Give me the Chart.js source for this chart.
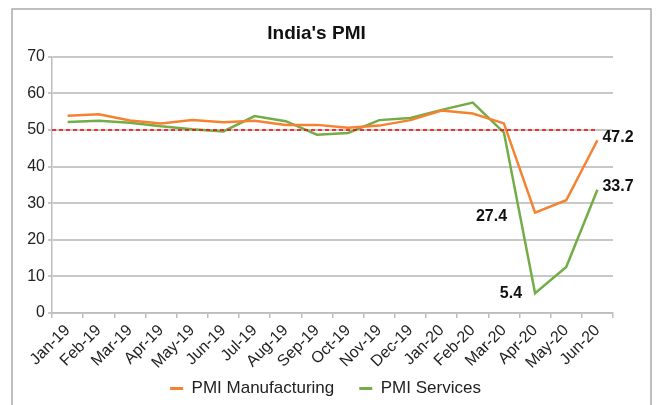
<!DOCTYPE html>
<html lang="en">
<head>
    <meta charset="UTF-8">
    <title>India's PMI</title>
    <script src="https://cdn.jsdelivr.net/npm/chart.js"></script>
    <style>
        body { margin: 0; background: #fff; }
        canvas { display: block; }
    </style>
</head>
<body>
    <canvas id="pmiChart" width="657" height="405"></canvas>
    <script>
        var months = ['Jan-19', 'Feb-19', 'Mar-19', 'Apr-19', 'May-19', 'Jun-19', 'Jul-19', 'Aug-19', 'Sep-19',
                      'Oct-19', 'Nov-19', 'Dec-19', 'Jan-20', 'Feb-20', 'Mar-20', 'Apr-20', 'May-20', 'Jun-20'];
        var manufacturing = [53.9, 54.3, 52.6, 51.8, 52.7, 52.1, 52.5, 51.4, 51.4, 50.6, 51.2, 52.7, 55.3, 54.5, 51.8, 27.4, 30.8, 47.2];
        var services = [52.2, 52.5, 52.0, 51.0, 50.2, 49.6, 53.8, 52.4, 48.7, 49.2, 52.7, 53.3, 55.5, 57.5, 49.3, 5.4, 12.6, 33.7];
        var threshold = 50;
        var yTicks = [0, 10, 20, 30, 40, 50, 60, 70];
        // which points get a value label: [dataset, index, side]
        var valueLabels = [[0, 15, 'below-left'], [0, 17, 'right'], [1, 15, 'left'], [1, 17, 'right']];

        var FONT = "'Liberation Sans', Arial, sans-serif";

        // grey frame round the whole chart
        var framePlugin = {
            id: 'frame',
            beforeDraw: function(chart) {
                var c = chart.ctx;
                c.save();
                c.strokeStyle = '#a9a9a9';
                c.lineWidth = 1.5;
                c.strokeRect(12, 9, 639, 430);
                c.restore();
            }
        };

        // nudge title and legend to where they sit in the original
        var placePlugin = {
            id: 'place',
            afterLayout: function(chart) {
                var lg = chart.legend;
                lg.left += 13; lg.right += 13;
                lg.top -= 14;
                chart.titleBlock.left += 4; chart.titleBlock.right += 4;
            }
        };

        // red dashed 50 line, from the axis to the last month
        var thresholdPlugin = {
            id: 'threshold',
            afterDatasetsDraw: function(chart) {
                var x = chart.scales.x, y = chart.scales.y, c = chart.ctx;
                var py = y.getPixelForValue(threshold);
                c.save();
                c.strokeStyle = '#ff0000';
                c.lineWidth = 1.5;
                c.setLineDash([4, 3]);
                c.beginPath();
                c.moveTo(chart.chartArea.left, py);
                c.lineTo(x.getPixelForValue(months.length - 1), py);
                c.stroke();
                c.restore();
            }
        };

        var labelPlugin = {
            id: 'valueLabels',
            afterDatasetsDraw: function(chart) {
                var c = chart.ctx;
                c.save();
                c.font = 'bold 16px ' + FONT;
                c.fillStyle = '#111';
                c.textBaseline = 'middle';
                valueLabels.forEach(function(l) {
                    var pt = chart.getDatasetMeta(l[0]).data[l[1]];
                    var v = chart.data.datasets[l[0]].data[l[1]].toFixed(1);
                    if (l[2] === 'right') {
                        c.textAlign = 'left';
                        c.fillText(v, pt.x + 5, pt.y - 3);
                    } else if (l[2] === 'left') {
                        c.textAlign = 'right';
                        c.fillText(v, pt.x - 13, pt.y);
                    } else {
                        c.textAlign = 'right';
                        c.fillText(v, pt.x - 28, pt.y + 4);
                    }
                });
                c.restore();
            }
        };

        var ctx = document.getElementById('pmiChart').getContext('2d');
        var pmiChart = new Chart(ctx, {
            type: 'line',
            data: {
                labels: months,
                datasets: [{
                    label: 'PMI Manufacturing',
                    data: manufacturing,
                    borderColor: '#f58231',
                    backgroundColor: '#f58231',
                    borderWidth: 2.5,
                    pointRadius: 0,
                    tension: 0,
                    fill: false
                }, {
                    label: 'PMI Services',
                    data: services,
                    borderColor: '#72ad48',
                    backgroundColor: '#72ad48',
                    borderWidth: 2.5,
                    pointRadius: 0,
                    tension: 0,
                    fill: false
                }]
            },
            options: {
                responsive: false,
                animation: false,
                layout: { padding: { left: 12, right: 44, top: 9, bottom: 0 } },
                plugins: {
                    title: {
                        display: true,
                        text: "India's PMI",
                        color: '#111',
                        font: { family: FONT, size: 19, weight: 'bold' },
                        padding: { top: 13, bottom: 12 }
                    },
                    legend: {
                        position: 'bottom',
                        maxHeight: 36,
                        labels: {
                            boxWidth: 13,
                            boxHeight: 3,
                            padding: 25,
                            color: '#222',
                            font: { family: FONT, size: 17 },
                            generateLabels: function(chart) {
                                return Chart.defaults.plugins.legend.labels.generateLabels(chart).map(function(l) {
                                    l.lineWidth = 0;
                                    return l;
                                });
                            }
                        }
                    },
                    tooltip: { enabled: false }
                },
                scales: {
                    x: {
                        offset: true,
                        afterFit: function(s) { s.height = 56; },
                        grid: { offset: true, drawOnChartArea: false, color: '#bdbdbd', tickLength: 5, lineWidth: 1.5 },
                        border: { color: '#bdbdbd', width: 1.5 },
                        ticks: {
                            color: '#222',
                            font: { family: FONT, size: 16 },
                            minRotation: 45,
                            maxRotation: 45,
                            autoSkip: false,
                            padding: 3
                        }
                    },
                    y: {
                        min: 0,
                        max: 70,
                        afterFit: function(s) { s.width = 40; },
                        afterBuildTicks: function(s) { s.ticks = yTicks.map(function(v) { return { value: v }; }); },
                        grid: { color: '#c8c8c8', lineWidth: 2, tickLength: 4 },
                        border: { color: '#bdbdbd', width: 1.5 },
                        ticks: {
                            color: '#222',
                            font: { family: FONT, size: 16 },
                            padding: 3
                        }
                    }
                }
            },
            plugins: [framePlugin, placePlugin, thresholdPlugin, labelPlugin]
        });
    </script>
</body>
</html>
